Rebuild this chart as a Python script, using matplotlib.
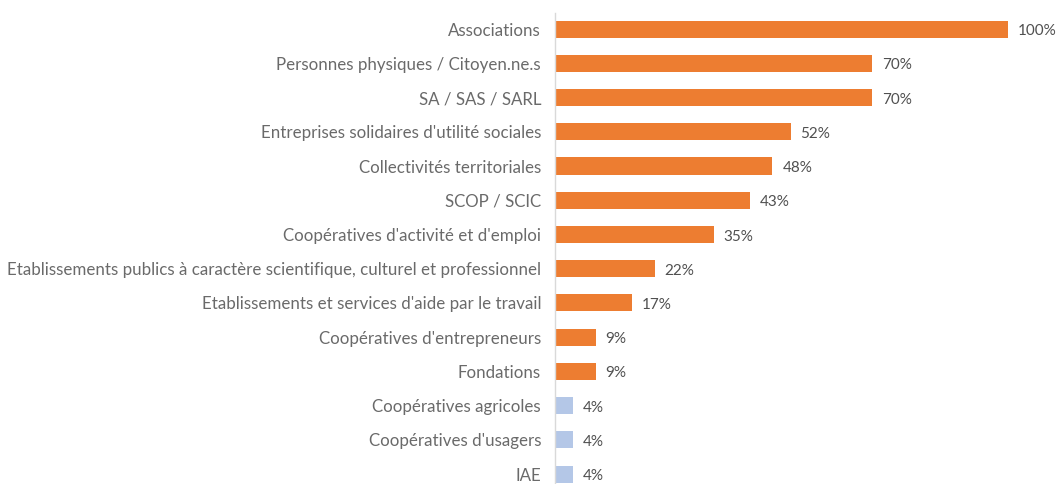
import numpy as np
import matplotlib.pyplot as plt

plt.rcParams['font.family'] = ['Lato', 'DejaVu Sans']

# donnees
categories = ["Associations", "Personnes physiques / Citoyen.ne.s", "SA / SAS / SARL",
              "Entreprises solidaires d'utilité sociales", "Collectivités territoriales",
              "SCOP / SCIC", "Coopératives d'activité et d'emploi",
              "Etablissements publics à caractère scientifique, culturel et professionnel",
              "Etablissements et services d'aide par le travail",
              "Coopératives d'entrepreneurs", "Fondations", "Coopératives agricoles",
              "Coopératives d'usagers", "IAE"]
valeurs = [100, 70, 70, 52, 48, 43, 35, 22, 17, 9, 9, 4, 4, 4]
n_orange = 11

orange = '#ED7D31'
bleu = '#B4C7E7'
gris = '#6A6A6A'

W, H = 1058, 484
fig = plt.figure(figsize=(W / 100, H / 100), dpi=100)
ax = fig.add_axes([555 / W, 0, (1008 - 555) / W, (484 - 13) / H])

y = np.arange(len(categories))
couleurs = [orange if i < n_orange else bleu for i in range(len(categories))]
ax.barh(y, valeurs, height=0.5, color=couleurs)

for yi, v in zip(y, valeurs):
    ax.text(v + 2.2, yi + 0.06, '{}%'.format(v), va='center', ha='left', fontsize=11,
            color='#505050', clip_on=False)

ax.set_xlim(0, 100)
ax.set_ylim(13.29, -0.47)
ax.set_yticks(y)
ax.set_yticklabels(categories, fontsize=12.2, color=gris)
ax.tick_params(axis='y', length=0, pad=10)
ax.set_xticks([])
for s in ['top', 'right', 'bottom']:
    ax.spines[s].set_visible(False)
ax.spines['left'].set_color('#D9D9D9')
ax.spines['left'].set_linewidth(1)

fig.savefig('out.png', dpi=100)
